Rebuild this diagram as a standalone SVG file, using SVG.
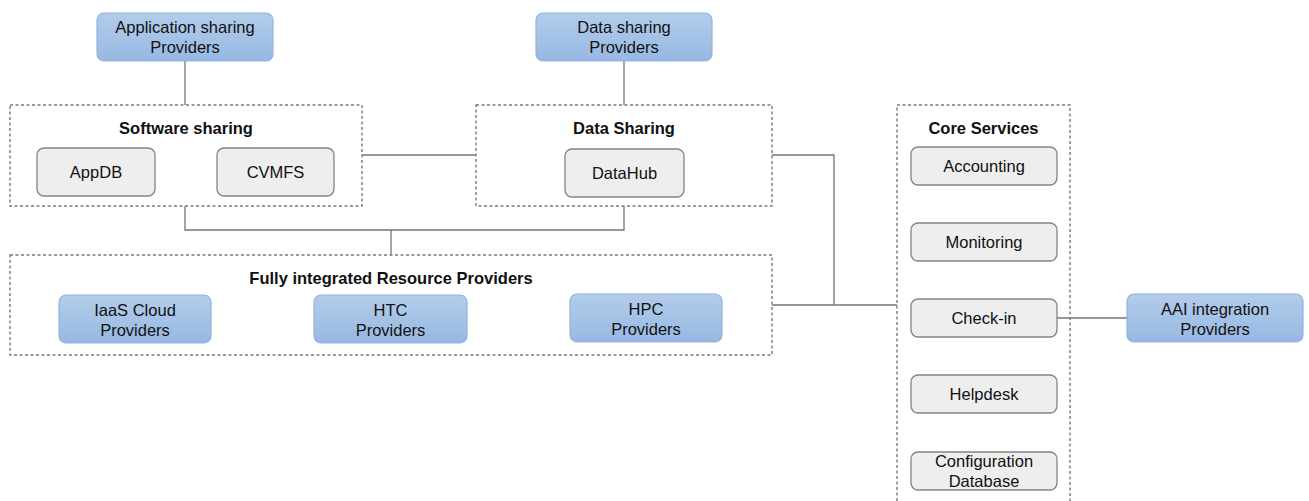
<svg xmlns="http://www.w3.org/2000/svg" width="1309" height="501" viewBox="0 0 1309 501">
  <defs>
    <linearGradient id="blueFill" x1="0" y1="0" x2="0" y2="1">
      <stop offset="0" stop-color="#b3cdea"/>
      <stop offset="1" stop-color="#97b8e3"/>
    </linearGradient>
    <style>
      .bg { fill: #ffffff; }
      .provider { fill: url(#blueFill); stroke: #92b3dd; stroke-width: 1.2; }
      .service { fill: #eeeeee; stroke: #848484; stroke-width: 1.3; }
      .group { fill: none; stroke: #7a7a7a; stroke-width: 1.4; stroke-dasharray: 3 2.5; }
      .label { font-family: "Liberation Sans", Arial, sans-serif; font-size: 16.5px; fill: #111111; text-anchor: middle; }
      .title { font-family: "Liberation Sans", Arial, sans-serif; font-size: 16.5px; font-weight: bold; fill: #111111; text-anchor: middle; }
      .link { fill: none; stroke: #757575; stroke-width: 1.3; }
    </style>
  </defs>

  <rect class="bg" x="0" y="0" width="1309" height="501"/>

  <!-- connectors -->
  <g id="connectors">
    <path class="link" d="M185 61 V105"/>
    <path class="link" d="M624 61 V105"/>
    <path class="link" d="M362 155 H476"/>
    <path class="link" d="M185 206 V230 H624 V206"/>
    <path class="link" d="M391 230 V255"/>
    <path class="link" d="M772 155 H834 V305"/>
    <path class="link" d="M772 305 H897"/>
    <path class="link" d="M1057 318 H1127"/>
  </g>

  <!-- software sharing group -->
  <g id="software-sharing">
    <rect class="group" x="10" y="105" width="352" height="101"/>
    <text class="title" x="186" y="134">Software sharing</text>
  </g>
  <g id="appdb">
    <rect class="service" x="37" y="148" width="118" height="48" rx="7"/>
    <text class="label" x="96" y="178">AppDB</text>
  </g>
  <g id="cvmfs">
    <rect class="service" x="217" y="148" width="117" height="48" rx="7"/>
    <text class="label" x="275.5" y="178">CVMFS</text>
  </g>

  <!-- data sharing group -->
  <g id="data-sharing">
    <rect class="group" x="476" y="105" width="296" height="101"/>
    <text class="title" x="624" y="134">Data Sharing</text>
  </g>
  <g id="datahub">
    <rect class="service" x="565" y="149" width="119" height="48" rx="7"/>
    <text class="label" x="624.5" y="179">DataHub</text>
  </g>

  <!-- upstream providers -->
  <g id="application-sharing-providers">
    <rect class="provider" x="97" y="13" width="176" height="48" rx="7"/>
    <text class="label" x="185" y="33">Application sharing</text>
    <text class="label" x="185" y="53">Providers</text>
  </g>
  <g id="data-sharing-providers">
    <rect class="provider" x="536" y="13" width="176" height="48" rx="7"/>
    <text class="label" x="624" y="33">Data sharing</text>
    <text class="label" x="624" y="53">Providers</text>
  </g>

  <!-- fully integrated resource providers group -->
  <g id="resource-providers">
    <rect class="group" x="10" y="255" width="762" height="100"/>
    <text class="title" x="391" y="284">Fully integrated Resource Providers</text>
  </g>
  <g id="iaas">
    <rect class="provider" x="59" y="295" width="152" height="48" rx="7"/>
    <text class="label" x="135" y="316">IaaS Cloud</text>
    <text class="label" x="135" y="336">Providers</text>
  </g>
  <g id="htc">
    <rect class="provider" x="314" y="295" width="153" height="48" rx="7"/>
    <text class="label" x="390.5" y="316">HTC</text>
    <text class="label" x="390.5" y="336">Providers</text>
  </g>
  <g id="hpc">
    <rect class="provider" x="570" y="294" width="152" height="48" rx="7"/>
    <text class="label" x="646" y="315">HPC</text>
    <text class="label" x="646" y="335">Providers</text>
  </g>

  <!-- core services group -->
  <g id="core-services">
    <rect class="group" x="897" y="105" width="173" height="410"/>
    <text class="title" x="983.5" y="134">Core Services</text>
  </g>
  <g id="accounting">
    <rect class="service" x="911" y="147" width="146" height="38" rx="7"/>
    <text class="label" x="984" y="172">Accounting</text>
  </g>
  <g id="monitoring">
    <rect class="service" x="911" y="223" width="146" height="38" rx="7"/>
    <text class="label" x="984" y="248">Monitoring</text>
  </g>
  <g id="check-in">
    <rect class="service" x="911" y="299" width="146" height="38" rx="7"/>
    <text class="label" x="984" y="324">Check-in</text>
  </g>
  <g id="helpdesk">
    <rect class="service" x="911" y="375" width="146" height="38" rx="7"/>
    <text class="label" x="984" y="400">Helpdesk</text>
  </g>
  <g id="configuration-database">
    <rect class="service" x="911" y="452" width="146" height="38" rx="7"/>
    <text class="label" x="984" y="467">Configuration</text>
    <text class="label" x="984" y="487">Database</text>
  </g>

  <!-- AAI providers -->
  <g id="aai-providers">
    <rect class="provider" x="1127" y="294" width="176" height="48" rx="7"/>
    <text class="label" x="1215" y="315">AAI integration</text>
    <text class="label" x="1215" y="335">Providers</text>
  </g>
</svg>
